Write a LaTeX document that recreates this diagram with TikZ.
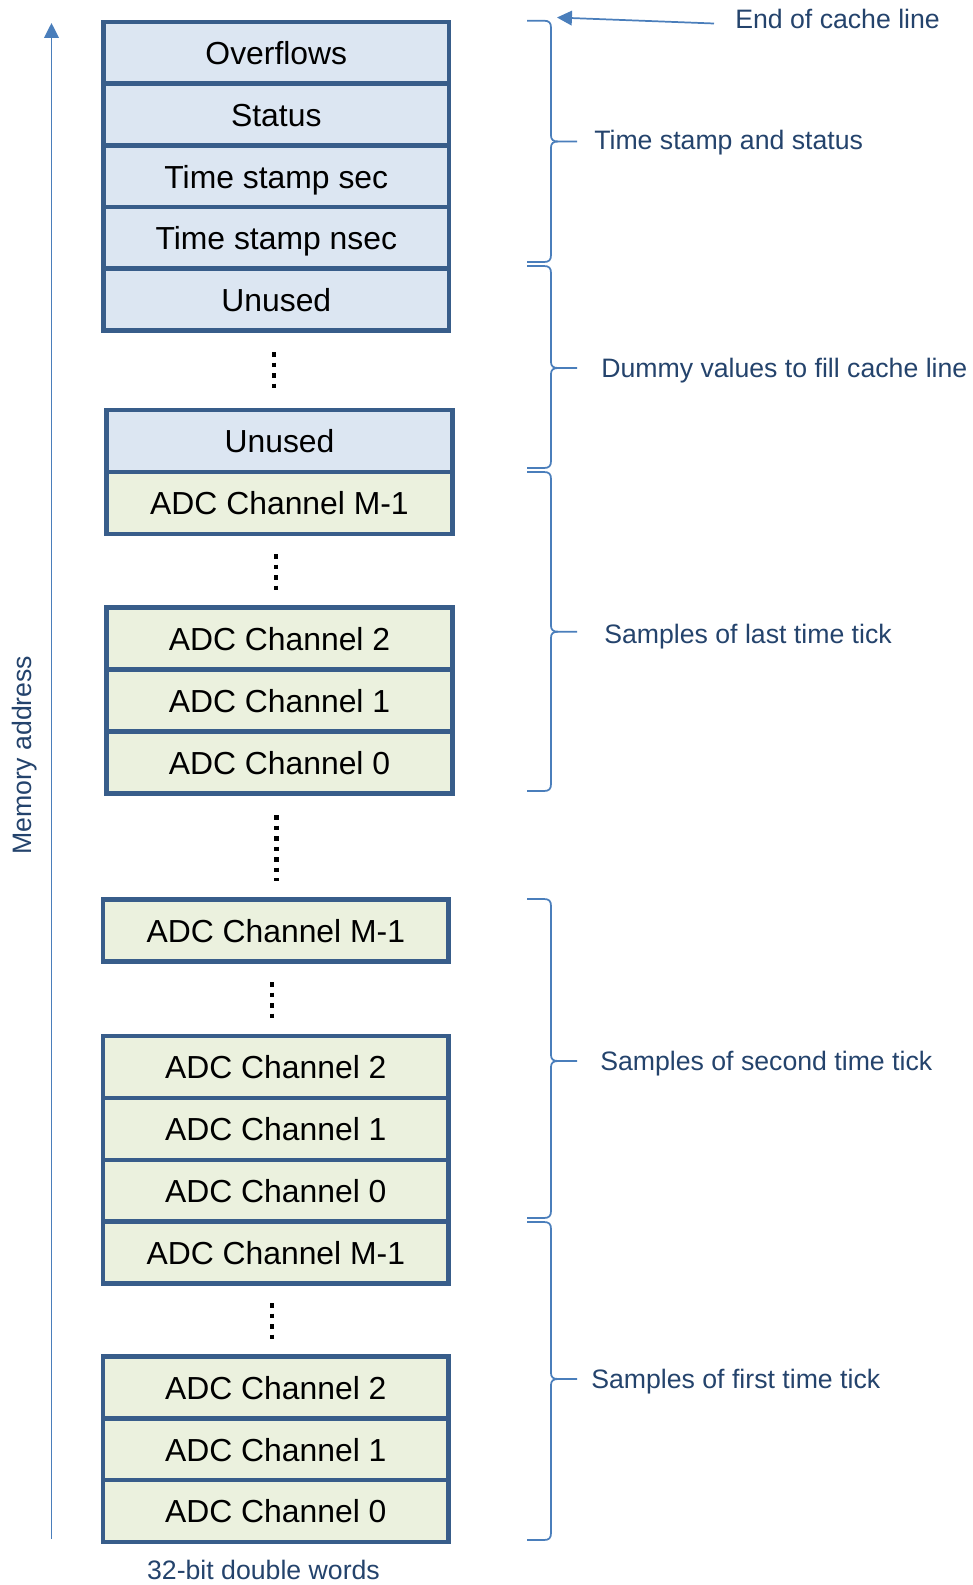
\documentclass[tikz,border=0pt]{standalone}
\usepackage{fontspec}
\setmainfont{Liberation Sans}
\usetikzlibrary{arrows.meta}
\definecolor{cellborder}{HTML}{385D8A}
\definecolor{bluefill}{HTML}{DCE6F2}
\definecolor{greenfill}{HTML}{EBF1DE}
\definecolor{labelblue}{HTML}{24436C}
\definecolor{linkblue}{HTML}{4A7EBB}
\newcommand\mybrace[3]{%
  \draw[brc] (527,#1) -- (544,#1) .. controls (549,#1) and (551,#1+2) .. (551,#1+7) -- (551,#2-6) .. controls (551,#2-2) and (553,#2) .. (558,#2) -- (577,#2);
  \draw[brc] (558,#2) .. controls (553,#2) and (551,#2+2) .. (551,#2+6) -- (551,#3-7) .. controls (551,#3-2) and (549,#3) .. (544,#3) -- (527,#3);}
\begin{document}
\begin{tikzpicture}[x=0.75pt,y=-0.75pt,
  cell/.style={draw=cellborder, line width=3.5pt, minimum width=259.1pt, minimum height=46.35pt,
    inner sep=0pt, text height=17.6pt, text depth=0pt, font=\fontsize{23.9}{28}\selectfont, text=black},
  bluecell/.style={cell, fill=bluefill},
  greencell/.style={cell, fill=greenfill},
  lbl/.style={anchor=west, text=labelblue, font=\fontsize{20}{24}\selectfont, inner sep=0pt,
    text height=14.3pt, text depth=0pt},
  brc/.style={draw=linkblue, line width=1.3pt, line join=round},
  vdots/.style={draw=black, line width=3.6pt, dash pattern=on 3.6pt off 4.3pt},
  ptr/.style={draw=linkblue, line width=1.3pt, -{Triangle[length=11.2pt,width=11pt]}}]
\useasboundingbox (0,0) rectangle (973,1585);

% group 1
\node[bluecell] (ov)  at (276.3,53)    {Overflows};
\node[bluecell] (st)  at (276.3,114.7) {Status};
\node[bluecell] (tss) at (276.3,176.3) {Time stamp sec};
\node[bluecell] (tsn) at (276.3,238)   {Time stamp nsec};
\node[bluecell] (un1) at (276.3,299.6) {Unused};
\draw[vdots] (274,352) -- (274,389);

% group 2
\node[bluecell]  (un2)   at (279.5,441) {Unused};
\node[greencell] (adcMa) at (279.5,503) {ADC Channel M-1};
\draw[vdots] (276,554) -- (276,591);

% group 3
\node[greencell] (adc2a) at (279.5,638.6) {ADC Channel 2};
\node[greencell] (adc1a) at (279.5,700.7) {ADC Channel 1};
\node[greencell] (adc0a) at (279.5,762.8) {ADC Channel 0};
\draw[vdots] (276.5,815) -- (276.5,881);

% group 4
\node[greencell] (adcMb) at (275.8,930.6) {ADC Channel M-1};
\draw[vdots] (272,982) -- (272,1019);

% group 5
\node[greencell] (adc2b) at (275.8,1067)   {ADC Channel 2};
\node[greencell] (adc1b) at (275.8,1129)   {ADC Channel 1};
\node[greencell] (adc0b) at (275.8,1190.8) {ADC Channel 0};
\node[greencell] (adcMc) at (275.8,1252.4) {ADC Channel M-1};
\draw[vdots] (272,1303) -- (272,1340);

% group 6
\node[greencell] (adc2c) at (275.8,1387.3) {ADC Channel 2};
\node[greencell] (adc1c) at (275.8,1449.4) {ADC Channel 1};
\node[greencell] (adc0c) at (275.8,1511)   {ADC Channel 0};

% memory address axis
\coordinate (memBot) at (51.5,1539);
\coordinate (memTop) at (51.5,23);
\draw[ptr] (memBot) -- (memTop);
\node[rotate=90, text=labelblue, font=\fontsize{20}{24}\selectfont, inner sep=0pt,
  text height=14.3pt, text depth=0pt] (memlbl) at (21.5,755) {Memory address};
\node[text=labelblue, font=\fontsize{20}{24}\selectfont, inner sep=0pt,
  text height=14.3pt, text depth=0pt] (words) at (263.5,1570) {32-bit double words};

% braces
\mybrace{20.7}{141.5}{262}
\mybrace{266}{368}{468}
\mybrace{472}{631.7}{791}
\mybrace{899}{1061}{1218}
\mybrace{1222}{1379}{1540}

% labels
\node[lbl] (eocl) at (735,18.5) {End of cache line};
\coordinate (eoclTail) at (714,23.5);
\coordinate (eoclTip) at (557,17.5);
\draw[ptr] (eoclTail) -- (eoclTip);
\node[lbl] (tsas) at (594,139.5) {Time stamp and status};
\node[lbl] (dummy) at (601,368) {Dummy values to fill cache line};
\node[lbl] (last) at (604,633.5) {Samples of last time tick};
\node[lbl] (second) at (600,1061) {Samples of second time tick};
\node[lbl] (first) at (591,1379) {Samples of first time tick};
\end{tikzpicture}
\end{document}
